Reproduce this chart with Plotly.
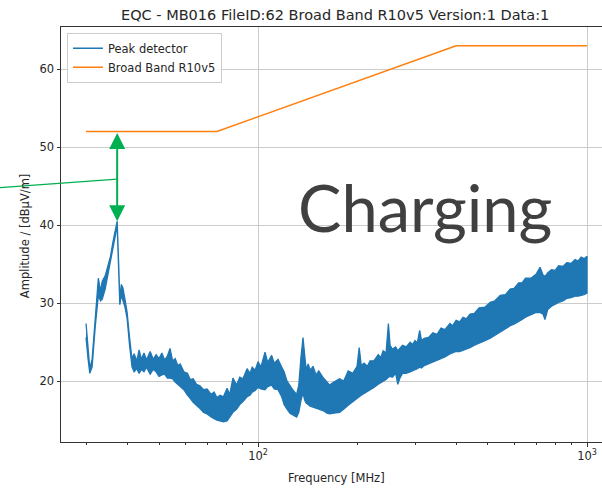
import math
import plotly.graph_objects as go

# Peak detector spectrum: upper / lower envelope of the trace (dBµV/m) per frequency (MHz)
freq = [30.0, 30.4, 30.8, 31.3, 32.0, 32.7, 33.2, 33.6, 34.3, 35.0, 35.6, 36.2, 36.8, 37.3,
        37.7, 38.0, 38.4, 38.8, 39.4, 40.0, 40.7, 41.4,
        42.0, 42.8, 43.5, 44.2, 45.0, 45.8, 47.0, 48.0, 49.0, 50.0, 51.0, 52.0, 53.0, 54.0,
        55.0, 56.0, 57.0, 58.0, 59.5, 61.0, 62.2, 63.5, 65.0, 66.6, 68.3, 70.0, 72.0, 73.5,
        75.0, 76.7, 78.5, 80.5, 82.0, 83.9, 86.0, 88.0, 90.0, 92.6, 94.5, 96.0, 98.0,
        100, 102, 105, 107, 110, 112, 115, 118, 120, 122.5, 125, 128, 131, 133, 135, 137,
        138.5, 140, 142, 144, 147, 150, 153, 158, 162, 165, 170, 177, 182, 188, 194, 200,
        203, 206, 210, 215, 219, 225, 232, 236, 240, 245, 249, 252, 256, 262, 266, 270,
        275, 282, 290, 295, 300, 305, 310, 314, 320, 330, 340, 350, 360, 370, 383, 390,
        400, 410, 420, 430, 441, 455, 470, 490, 508, 525, 545, 565, 584, 600, 620, 635,
        650, 675, 700, 720, 735, 745, 760, 780, 800, 820, 845, 868, 895, 920, 940, 960,
        980, 1000]
peak_upper = [27.4, 24.5, 21.6, 22.8, 28.5, 33.2, 31.5, 32.8, 33.5, 34.8, 36.0, 37.8, 39.2, 40.5,
              35.0, 30.4, 32.4, 32.0, 30.5, 28.8, 25.5, 22.8,
              23.5, 22.6, 24.0, 22.8, 23.6, 22.7, 23.8, 22.8, 23.4, 22.9, 23.6, 22.7, 23.2, 24.2,
              22.6, 22.9, 22.0, 22.2, 21.2, 21.0, 20.2, 20.3, 19.6, 19.4, 18.9, 19.0, 18.3, 18.6,
              17.9, 18.2, 18.0, 19.1, 18.3, 20.4, 19.5, 20.5, 20.3, 21.6, 21.0, 21.8, 21.4,
              22.5, 21.8, 23.7, 22.4, 23.3, 22.3, 22.8, 21.8, 21.2, 20.0, 19.4, 18.8, 18.3, 19.5,
              23.0, 25.6,
              23.5, 21.5, 22.2, 21.4, 21.9, 20.8, 21.3, 20.4, 19.9, 19.5, 19.9, 20.3, 20.0, 21.3,
              21.0, 21.9,
              24.3, 22.0, 22.3, 21.9, 22.6, 22.6, 23.4, 23.0, 23.9, 23.6, 27.4, 24.6, 24.1, 24.4,
              23.9, 24.2,
              24.6, 24.4, 25.0, 24.7, 25.2, 24.9, 26.5, 25.2, 25.5, 25.6, 26.2, 26.0, 26.8, 26.6,
              27.4, 27.1,
              27.8, 27.6, 28.2, 28.0, 28.6, 28.7, 29.4, 29.5, 30.1, 30.3, 31.0, 31.1, 31.8, 31.9,
              32.6, 32.6,
              33.2, 33.2, 33.7, 34.6, 33.6, 33.4, 33.9, 34.3, 34.2, 34.8, 34.7, 35.2, 35.1, 35.6,
              35.4, 35.9, 35.7, 36.0]
peak_lower = [25.6, 23.0, 21.0, 21.8, 27.0, 31.0, 30.3, 30.5, 31.8, 33.5, 35.0, 37.0, 38.6, 40.0,
              34.0, 29.8, 31.0, 30.3, 29.5, 28.0, 24.5, 21.8,
              21.2, 21.6, 21.0, 21.5, 21.2, 21.8, 20.9, 21.5, 21.2, 20.6, 20.8, 20.9, 20.4, 20.4,
              20.3, 19.9, 19.6, 19.3, 18.9, 18.2, 17.8, 17.3, 16.9, 16.5, 16.0, 15.8, 15.4, 15.2,
              15.0, 14.9, 14.8, 14.9, 15.4, 16.0, 16.4, 17.0, 17.4, 18.0, 18.2, 18.6, 18.8,
              19.2, 19.0, 18.9, 19.3, 19.5, 19.0, 18.9, 18.0, 17.0, 16.4, 15.9, 15.6, 15.4, 16.0,
              17.5, 18.5,
              17.6, 17.2, 17.0, 16.8, 16.7, 16.5, 16.4, 16.2, 15.9, 15.8, 15.9, 16.0, 16.4, 16.9,
              17.4, 17.8,
              18.0, 18.2, 18.5, 18.7, 18.9, 19.2, 19.6, 19.8, 20.0, 20.2, 20.5, 20.6, 20.5, 21.0,
              19.6, 20.4,
              21.0, 21.0, 21.2, 21.3, 21.5, 21.6, 21.8, 21.7, 22.0, 22.2, 22.4, 22.6, 22.9, 23.1,
              23.5, 23.6,
              23.8, 23.8, 24.0, 24.1, 24.3, 24.6, 24.9, 25.2, 25.5, 25.9, 26.3, 26.7, 27.1, 27.3,
              27.6, 27.9,
              28.2, 28.5, 28.8, 28.8, 28.6, 27.9, 29.2, 29.6, 29.9, 30.1, 30.3, 30.6, 30.7, 30.9,
              30.9, 31.0, 31.1, 31.3]

# Broad Band R10v5 limit line
limit_freq = [30, 75, 400, 1000]
limit_level = [52, 52, 63, 63]

# Margin to the limit marked at the detector peak
margin_freq = 37.3
margin_peak = 40.5
margin_limit = 52.0

y_ticks = [20, 30, 40, 50, 60]
x_ticks = [100, 1000]
x_ticktext = ["10<sup>2</sup>", "10<sup>3</sup>"]
x_minor = [30, 40, 50, 60, 70, 80, 90, 200, 300, 400, 500, 600, 700, 800, 900]

title = "EQC - MB016 FileID:62 Broad Band R10v5 Version:1 Data:1"

BLUE = "#1f77b4"
ORANGE = "#ff7f0e"
GREEN = "#00b050"
FONT = "DejaVu Sans"
TXT = "#262626"

xr = [1.401, 3.0456]
yr = [12.2, 65.4]


def ypaper(v):
    return (v - yr[0]) / (yr[1] - yr[0])


def xpaper(f):
    return (math.log10(f) - xr[0]) / (xr[1] - xr[0])


fig = go.Figure()

# legend entry for the detector band
fig.add_trace(go.Scatter(x=[None], y=[None], mode="lines", name="Peak detector",
                         line=dict(color=BLUE, width=1.5)))
fig.add_trace(go.Scatter(x=freq + freq[::-1], y=peak_upper + peak_lower[::-1],
                         mode="lines", fill="toself", fillcolor=BLUE,
                         line=dict(color=BLUE, width=1.3), showlegend=False,
                         hoverinfo="skip"))
fig.add_trace(go.Scatter(x=limit_freq, y=limit_level, mode="lines", name="Broad Band R10v5",
                         line=dict(color=ORANGE, width=1.5)))

axis_common = dict(showgrid=True, gridcolor="#cccccc", gridwidth=1,
                   ticks="outside", ticklen=3.5, tickwidth=1, tickcolor="#333333",
                   showline=True, linecolor="#333333", linewidth=1,
                   tickfont=dict(family=FONT, size=11.5, color=TXT), zeroline=False)

fig.update_xaxes(type="log", range=xr, tickmode="array", tickvals=x_ticks,
                 ticktext=x_ticktext, mirror=True,
                 minor=dict(tickmode="array", tickvals=x_minor, ticks="outside",
                            ticklen=2, tickwidth=1, tickcolor="#333333", showgrid=False),
                 **axis_common)
fig.update_yaxes(range=yr, tickmode="array", tickvals=y_ticks, **axis_common)

mx = math.log10(margin_freq)
annotations = [
    dict(text=title, xref="paper", yref="paper", x=0.506, y=1, yanchor="bottom",
         yshift=2, showarrow=False, font=dict(family=FONT, size=14.5, color=TXT)),
    dict(text="Frequency [MHz]", xref="paper", yref="paper", x=0.51, y=-0.087,
         yanchor="middle", showarrow=False, font=dict(family=FONT, size=11.5, color=TXT)),
    dict(text="Amplitude / [dBµV/m]", xref="paper", yref="paper", x=-0.0665, y=0.496,
         textangle=-90, xanchor="center", yanchor="middle", showarrow=False,
         font=dict(family=FONT, size=11.5, color=TXT)),
    dict(text="Charging", xref="paper", yref="paper", x=0.673, y=ypaper(42.3),
         xanchor="center", yanchor="middle", showarrow=False,
         font=dict(family="Lato", size=65, color="#404040")),
    dict(text="", x=mx, y=margin_peak, ax=mx, ay=margin_limit, xref="x", yref="y",
         axref="x", ayref="y", showarrow=True, arrowside="end+start",
         arrowhead=2, startarrowhead=2, arrowsize=1.6, startarrowsize=1.6,
         arrowwidth=2, arrowcolor=GREEN, standoff=0, startstandoff=0),
]

# callout line leading to the margin arrow
shapes = [
    dict(type="line", xref="paper", yref="paper",
         x0=-61 / 541, y0=ypaper(44.8), x1=xpaper(margin_freq), y1=ypaper(45.9),
         line=dict(color=GREEN, width=1.2)),
]

fig.update_layout(
    width=602, height=489,
    margin=dict(l=61, r=0, t=27, b=47),
    paper_bgcolor="white", plot_bgcolor="white",
    font=dict(family=FONT, color=TXT),
    legend=dict(x=0.011, y=0.986, xanchor="left", yanchor="top",
                bgcolor="rgba(255,255,255,0.85)", bordercolor="#cccccc", borderwidth=1,
                font=dict(family=FONT, size=11.5, color=TXT), itemwidth=30,
                tracegroupgap=0),
    annotations=annotations,
    shapes=shapes,
    showlegend=True,
)

fig.write_html("out.html")
